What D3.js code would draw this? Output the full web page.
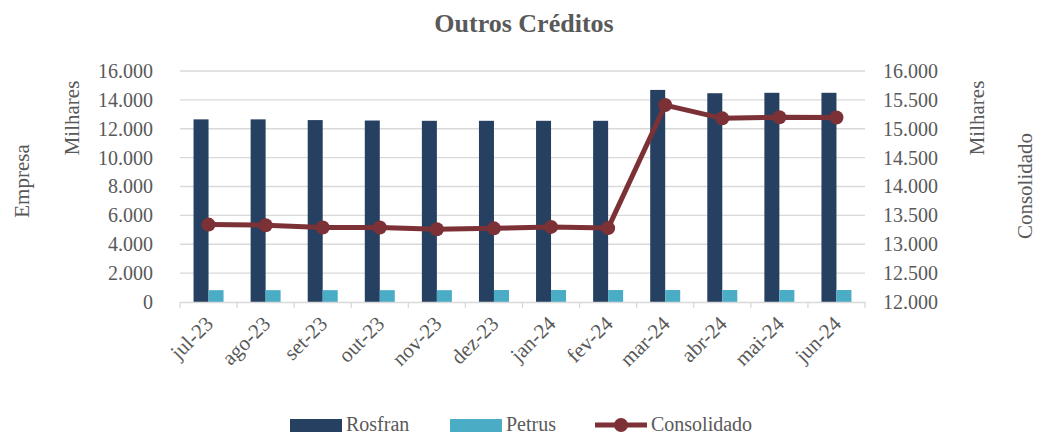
<!DOCTYPE html>
<html>
<head>
<meta charset="utf-8">
<script src="https://cdn.jsdelivr.net/npm/d3@7"></script>
<style>
	body { margin: 0; background: #fff; }
	svg text { font-family: 'Liberation Serif', 'DejaVu Serif', serif; fill: #595959; }
	.axis path, .axis line { stroke: #d9d9d9; }
	.axis text { font-size: 20px; font-family: 'Liberation Serif', 'DejaVu Serif', serif; }
</style>
</head>
<body>
<svg id="chart"></svg>
<script>
// data
const months = ['jul-23', 'ago-23', 'set-23', 'out-23', 'nov-23', 'dez-23', 'jan-24', 'fev-24', 'mar-24', 'abr-24', 'mai-24', 'jun-24']
const rosfran = [12650, 12650, 12600, 12570, 12550, 12550, 12550, 12550, 14690, 14460, 14490, 14490]
const petrus = [820, 820, 820, 820, 820, 830, 830, 830, 830, 830, 830, 830]
const consolidado = [13340, 13330, 13290, 13290, 13260, 13275, 13300, 13280, 15410, 15180, 15200, 15195]
const leftTicks = [0, 2000, 4000, 6000, 8000, 10000, 12000, 14000, 16000]
const rightTicks = [12000, 12500, 13000, 13500, 14000, 14500, 15000, 15500, 16000]

const colors = { rosfran: '#264061', petrus: '#4bacc6', consolidado: '#7b3135' }
const serif = "'Liberation Serif', 'DejaVu Serif', serif"

const outerWidth = 1045
const outerHeight = 435
const margin = { top: 71, right: 180, bottom: 133, left: 180 }
const width = outerWidth - margin.left - margin.right
const height = outerHeight - margin.top - margin.bottom

const fmt = d => d3.format(',')(d).replace(/,/g, '.')

const svg = d3.select('#chart')
	.attr('width', outerWidth)
	.attr('height', outerHeight)
	.attr('font-family', serif)

const g = svg.append('g')
	.attr('transform', `translate(${margin.left}, ${margin.top})`)

// scales
const x = d3.scaleBand().domain(months).range([0, width])
const yL = d3.scaleLinear().domain([0, 16000]).range([height, 0])
const yR = d3.scaleLinear().domain([12000, 16000]).range([height, 0])
const barW = 15

// gridlines
g.append('g')
	.selectAll('line')
	.data(leftTicks.slice(1))
	.join('line')
	.attr('x1', 0)
	.attr('x2', width)
	.attr('y1', d => yL(d))
	.attr('y2', d => yL(d))
	.attr('stroke', '#d9d9d9')
	.attr('stroke-width', 1.3)

// left axis
g.append('g')
	.attr('class', 'axis')
	.call(d3.axisLeft(yL).tickValues(leftTicks).tickFormat(fmt).tickSize(0).tickPadding(27))
	.call(a => a.attr('font-family', serif).select('.domain').remove())

// right axis
g.append('g')
	.attr('class', 'axis')
	.attr('transform', `translate(${width}, 0)`)
	.call(d3.axisRight(yR).tickValues(rightTicks).tickFormat(fmt).tickSize(0).tickPadding(18))
	.call(a => a.attr('font-family', serif).select('.domain').remove())

// bars
g.append('g')
	.selectAll('rect')
	.data(rosfran)
	.join('rect')
	.attr('x', (d, i) => x(months[i]) + x.bandwidth() / 2 - barW)
	.attr('width', barW)
	.attr('y', d => yL(d))
	.attr('height', d => height - yL(d))
	.attr('fill', colors.rosfran)

g.append('g')
	.selectAll('rect')
	.data(petrus)
	.join('rect')
	.attr('x', (d, i) => x(months[i]) + x.bandwidth() / 2)
	.attr('width', barW)
	.attr('y', d => yL(d))
	.attr('height', d => height - yL(d))
	.attr('fill', colors.petrus)

// x axis
const xAxis = g.append('g')
	.attr('class', 'axis')
	.attr('transform', `translate(0, ${height})`)
	.call(d3.axisBottom(x).tickSize(0).tickPadding(0))
	.attr('font-family', serif)

xAxis.select('.domain').attr('stroke-width', 1.3)

xAxis.selectAll('.boundary')
	.data(months.concat(['end']))
	.join('line')
	.attr('x1', (d, i) => i * x.bandwidth())
	.attr('x2', (d, i) => i * x.bandwidth())
	.attr('y1', 0)
	.attr('y2', 6)
	.attr('stroke', '#d9d9d9')
	.attr('stroke-width', 1.3)

xAxis.selectAll('.tick text')
	.attr('text-anchor', 'end')
	.attr('dy', 0)
	.style('font-size', '21px')
	.attr('transform', 'translate(6, 23) rotate(-45)')

// consolidated line
const line = d3.line()
	.x((d, i) => x(months[i]) + x.bandwidth() / 2)
	.y(d => yR(d))

g.append('path')
	.datum(consolidado)
	.attr('d', line)
	.attr('fill', 'none')
	.attr('stroke', colors.consolidado)
	.attr('stroke-width', 5)
	.attr('stroke-linejoin', 'round')

g.append('g')
	.selectAll('circle')
	.data(consolidado)
	.join('circle')
	.attr('cx', (d, i) => x(months[i]) + x.bandwidth() / 2)
	.attr('cy', d => yR(d))
	.attr('r', 7)
	.attr('fill', colors.consolidado)

// title
svg.append('text')
	.attr('x', 524)
	.attr('y', 32)
	.attr('text-anchor', 'middle')
	.style('font-size', '26px')
	.style('font-weight', 'bold')
	.text('Outros Créditos')

// axis titles
const axisTitle = (tx, ty, label) => svg.append('text')
	.attr('transform', `translate(${tx}, ${ty}) rotate(-90)`)
	.attr('text-anchor', 'middle')
	.style('font-size', '21px')
	.text(label)

axisTitle(79, 118, 'Milhares')
axisTitle(29, 181, 'Empresa')
axisTitle(984, 118, 'Milhares')
axisTitle(1032, 186, 'Consolidado')

// legend
const legend = svg.append('g').attr('transform', 'translate(0, 425)')
const items = [
	{ label: 'Rosfran', x: 290, type: 'rect', color: colors.rosfran },
	{ label: 'Petrus', x: 450, type: 'rect', color: colors.petrus },
	{ label: 'Consolidado', x: 595, type: 'line', color: colors.consolidado },
]

items.forEach(it => {
	if (it.type === 'rect') {
		legend.append('rect')
			.attr('x', it.x).attr('y', -6).attr('width', 52).attr('height', 13)
			.attr('fill', it.color)
	} else {
		legend.append('line')
			.attr('x1', it.x).attr('x2', it.x + 52).attr('y1', 0).attr('y2', 0)
			.attr('stroke', it.color).attr('stroke-width', 5)
		legend.append('circle')
			.attr('cx', it.x + 26).attr('cy', 0).attr('r', 7)
			.attr('fill', it.color)
	}
	legend.append('text')
		.attr('x', it.x + 56)
		.attr('y', 6)
		.style('font-size', '20px')
		.text(it.label)
})
</script>
</body>
</html>
